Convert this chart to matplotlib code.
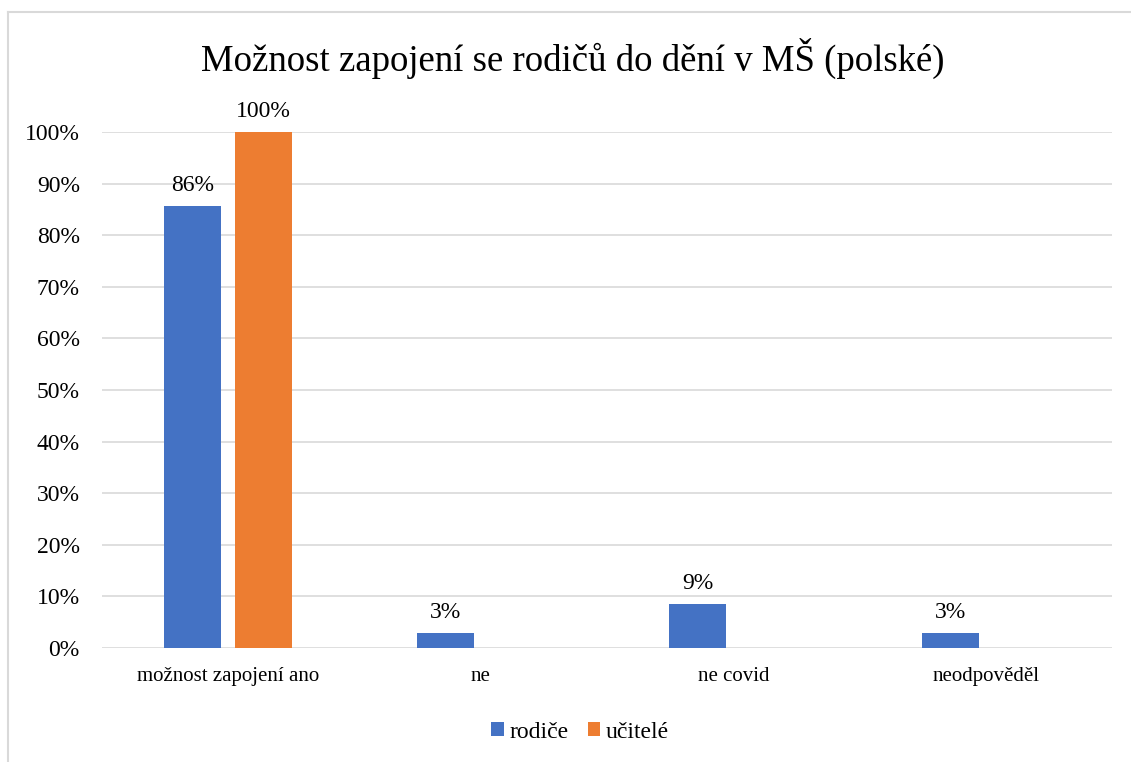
import matplotlib.pyplot as plt
import numpy as np

plt.rcParams['font.family'] = ['Liberation Serif', 'DejaVu Serif']

# data
categories = ['možnost zapojení ano', 'ne', 'ne covid', 'neodpověděl']
rodice = [85.7, 2.9, 8.6, 2.9]
ucitele = [100, 0, 0, 0]
series_names = ['rodiče', 'učitelé']
colors = ['#4472C4', '#ED7D31']

fig = plt.figure(figsize=(11.31, 7.62), dpi=100)
ax = fig.add_axes([102 / 1131, 1 - 648 / 762, 1010 / 1131, 516 / 762])

x = np.arange(len(categories))
w = 0.226
gap = 0.055
b1 = ax.bar(x - (w + gap) / 2, rodice, w, color=colors[0], label=series_names[0], zorder=3)
b2 = ax.bar(x + (w + gap) / 2, ucitele, w, color=colors[1], label=series_names[1], zorder=3)

for bars, vals in [(b1, rodice), (b2, ucitele)]:
    for bar, v in zip(bars, vals):
        if v == 0:
            continue
        ax.annotate(f'{round(v)}%', (bar.get_x() + bar.get_width() / 2, v),
                    xytext=(0, 7), textcoords='offset points',
                    ha='center', va='bottom', fontsize=17, color='black')

ax.set_xlim(-0.5, len(categories) - 0.5)
ax.set_ylim(0, 100)
ax.set_yticks(np.arange(0, 101, 10))
ax.set_yticklabels([f'{t}%' for t in range(0, 101, 10)])
ax.set_xticks(x)
ax.set_xticklabels(categories)
ax.tick_params(axis='both', length=0, colors='black')
ax.tick_params(axis='y', pad=16, labelsize=17)
ax.tick_params(axis='x', pad=14, labelsize=15)
ax.grid(axis='y', color='#d9d9d9', linewidth=1.2, zorder=0)
for s in ax.spines.values():
    s.set_visible(False)

fig.text(0.506, 1 - 58 / 762, 'Možnost zapojení se rodičů do dění v MŠ (polské)',
         ha='center', va='center', fontsize=26.5, color='black')

fig.legend(loc='center', bbox_to_anchor=(0.513, 1 - 732 / 762), ncol=2, frameon=False,
           fontsize=17, handlelength=0.52, handleheight=0.52, handletextpad=0.25,
           columnspacing=0.8)

# chart frame (left and top edges)
fig.add_artist(plt.Line2D([8 / 1131, 8 / 1131], [0, 1 - 12 / 762], color='#d9d9d9', linewidth=1.5))
fig.add_artist(plt.Line2D([8 / 1131, 1], [1 - 12 / 762, 1 - 12 / 762], color='#d9d9d9', linewidth=1.5))

fig.savefig('out.png', dpi=100)
